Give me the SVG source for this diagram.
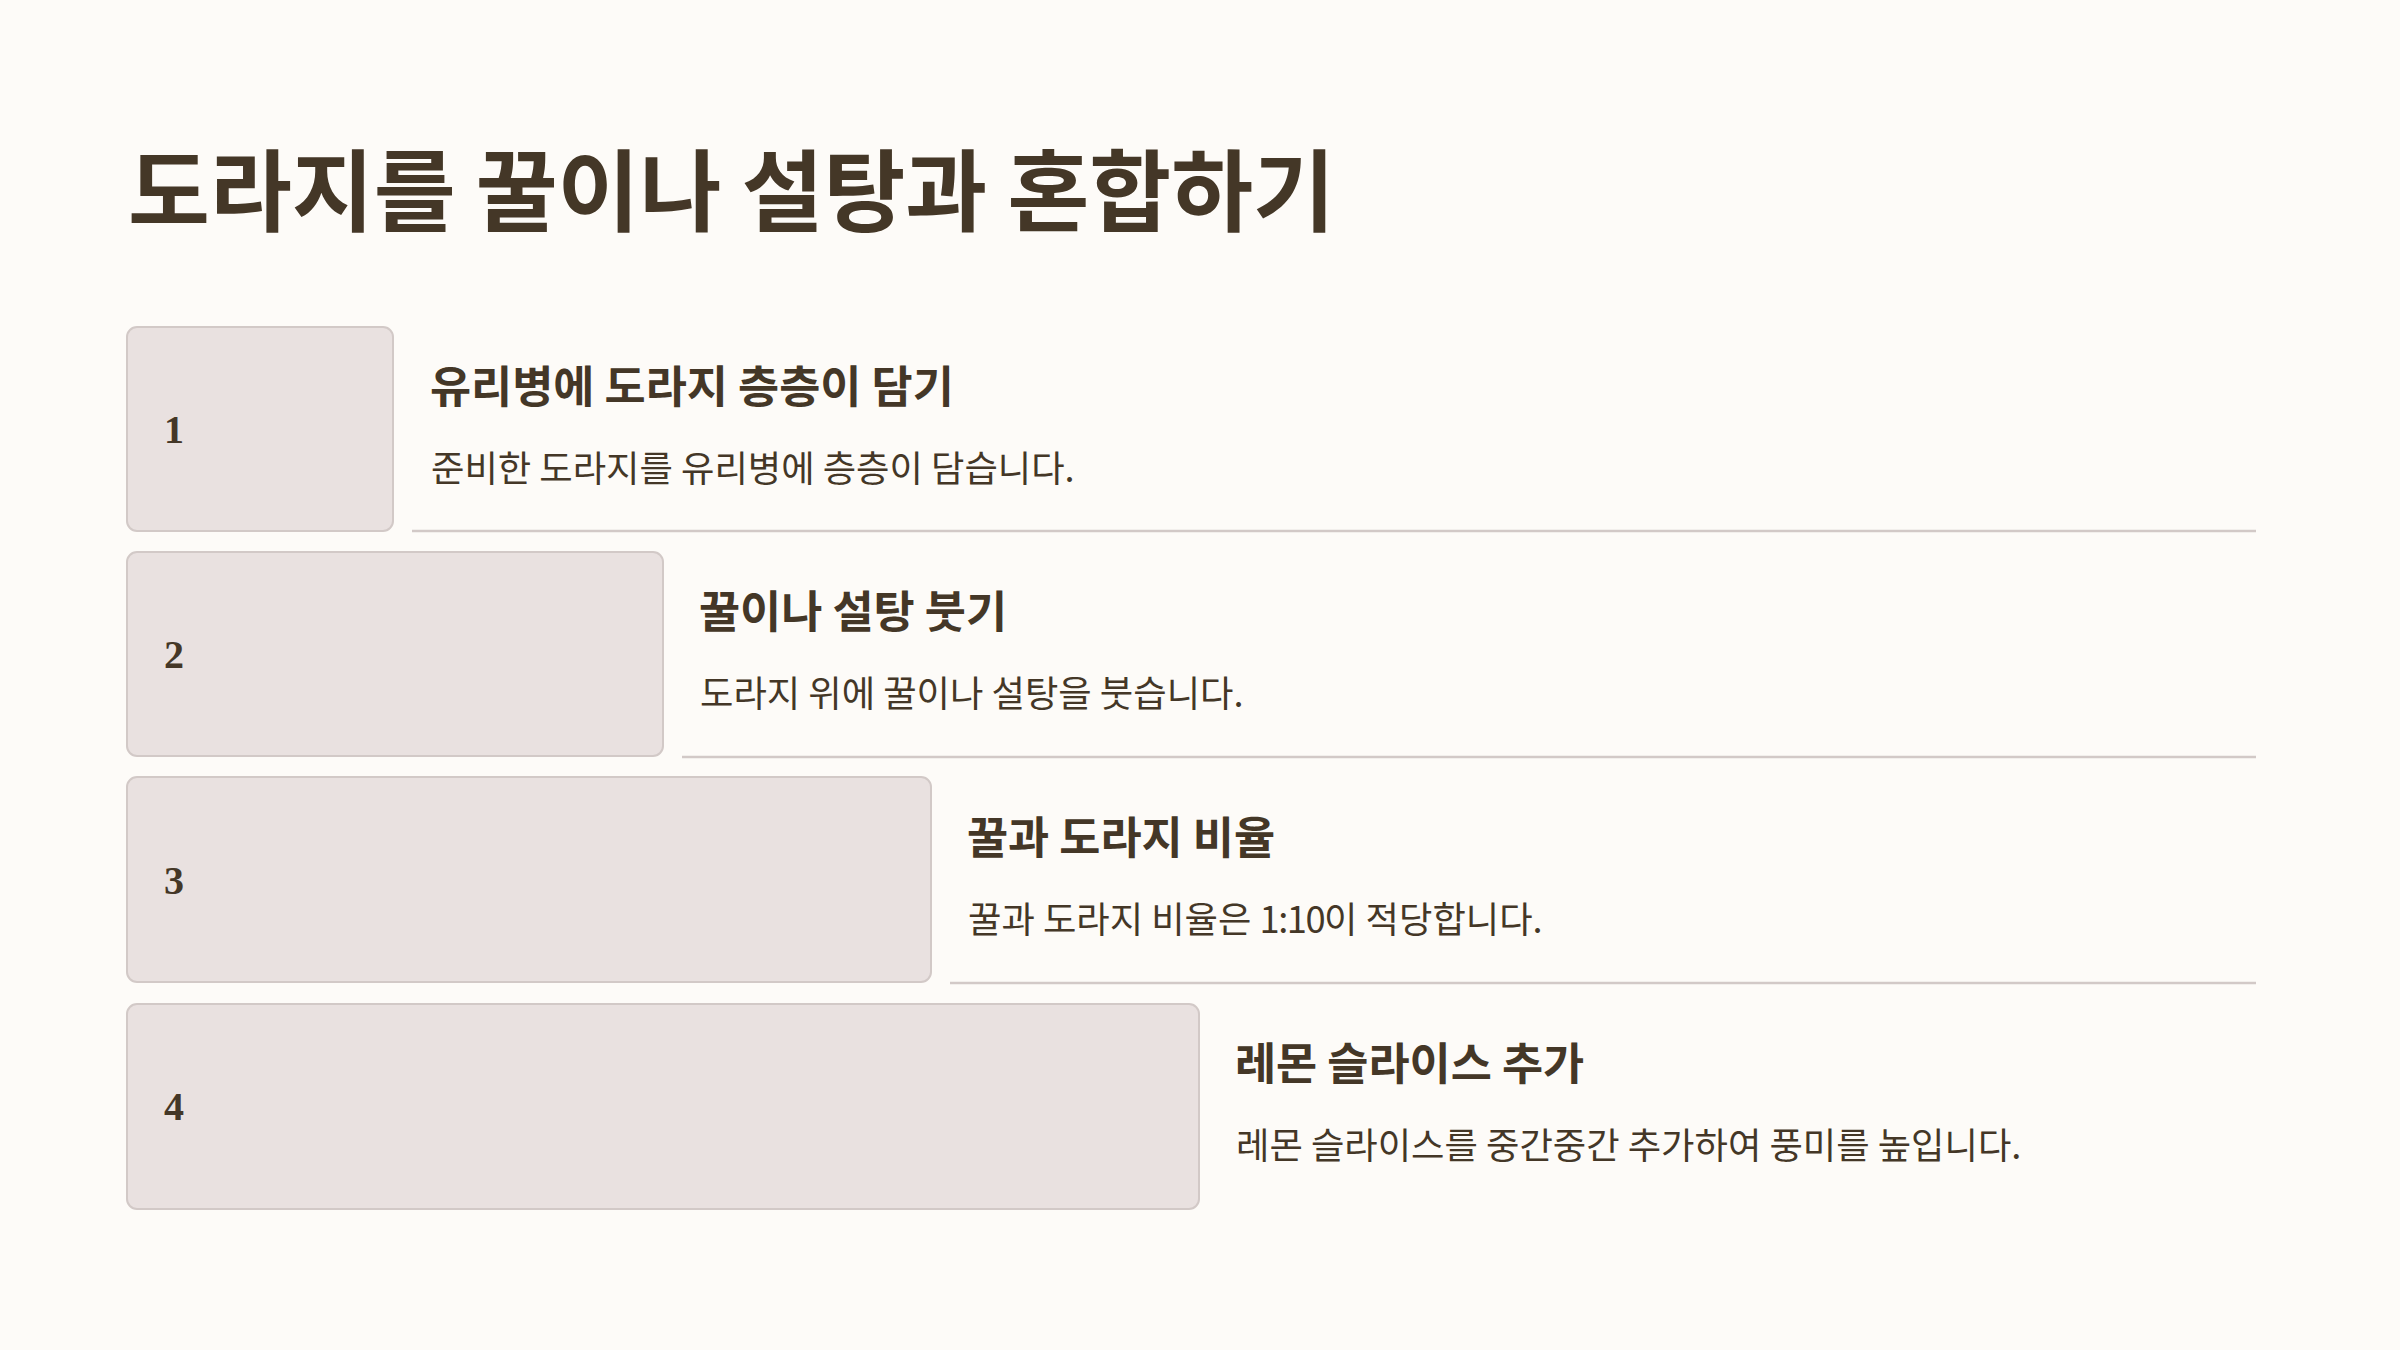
<svg xmlns="http://www.w3.org/2000/svg" width="2400" height="1350" viewBox="0 0 2400 1350">
<style>
.bg{fill:#FDFBF8}
.box{fill:#E9E1E0;stroke:#D2C9C7;stroke-width:2}
.sep{stroke:#D2C9C7;stroke-width:2.5;fill:none}
.title{font-family:"Noto Sans CJK KR","Noto Sans",sans-serif;font-weight:700;font-size:89px;fill:#443727}
.head{font-family:"Noto Sans CJK KR","Noto Sans",sans-serif;font-weight:700;font-size:44.7px;fill:#443727}
.desc{font-family:"Noto Sans CJK KR","Noto Sans",sans-serif;font-weight:400;font-size:36.3px;fill:#443727}
.num{font-family:"Liberation Serif","DejaVu Serif",serif;font-weight:700;font-size:40px;fill:#443727}
</style>
<rect class="bg" x="0" y="0" width="2400" height="1350"/>
<text class="title" x="128" y="224">도라지를 꿀이나 설탕과 혼합하기</text>
<g id="connectors">
<line class="sep" x1="412" y1="531" x2="2256" y2="531"/>
<line class="sep" x1="682" y1="757" x2="2256" y2="757"/>
<line class="sep" x1="950" y1="983" x2="2256" y2="983"/>
</g>
<g id="step1">
<rect class="box" x="127" y="327" width="266" height="204" rx="10"/>
<text class="num" x="164" y="443">1</text>
<text class="head" x="430" y="403">유리병에 도라지 층층이 담기</text>
<text class="desc" x="431" y="482">준비한 도라지를 유리병에 층층이 담습니다.</text>
</g>
<g id="step2">
<rect class="box" x="127" y="552" width="536" height="204" rx="10"/>
<text class="num" x="164" y="668">2</text>
<text class="head" x="699" y="628">꿀이나 설탕 붓기</text>
<text class="desc" x="700" y="707">도라지 위에 꿀이나 설탕을 붓습니다.</text>
</g>
<g id="step3">
<rect class="box" x="127" y="777" width="804" height="205" rx="10"/>
<text class="num" x="164" y="894">3</text>
<text class="head" x="967" y="854">꿀과 도라지 비율</text>
<text class="desc" x="968" y="933">꿀과 도라지 비율은 <tspan letter-spacing="-1.5">1:10</tspan>이 적당합니다.</text>
</g>
<g id="step4">
<rect class="box" x="127" y="1004" width="1072" height="205" rx="10"/>
<text class="num" x="164" y="1120">4</text>
<text class="head" x="1235" y="1080">레몬 슬라이스 추가</text>
<text class="desc" x="1236" y="1159">레몬 슬라이스를 중간중간 추가하여 풍미를 높입니다.</text>
</g>
</svg>
